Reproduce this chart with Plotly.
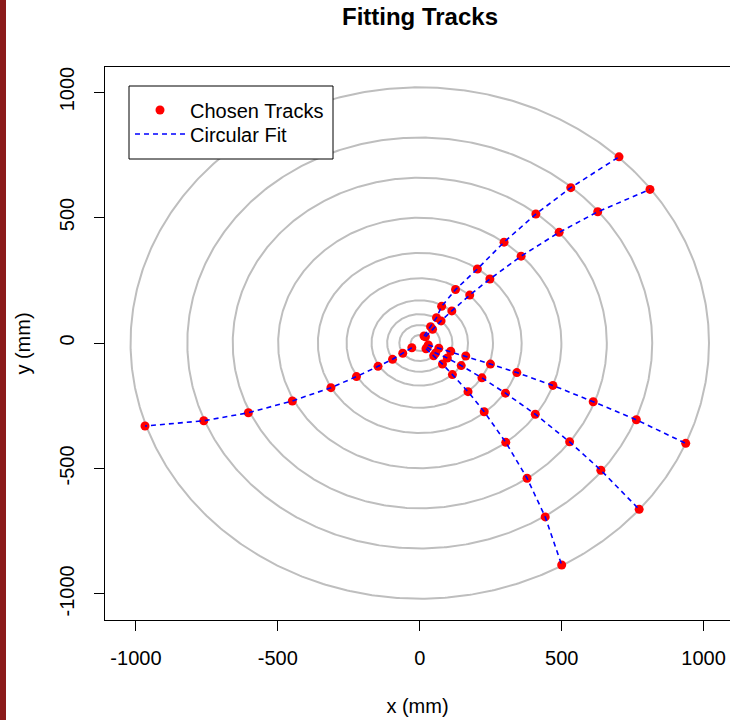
import numpy as np
import plotly.graph_objects as go

# Detector layer radii (mm)
layer_radii = [32, 72, 115, 170, 258, 359, 499, 659, 819, 1019]

# Chosen track hits (mm), inner -> outer
track_a_x = [15, 38, 59, 77, 126, 203, 297, 409, 532, 702]
track_a_y = [28, 65, 101, 146, 213, 295, 402, 514, 619, 742]
track_b_x = [20, 45, 75, 113, 176, 247, 357, 491, 627, 811]
track_b_y = [25, 55, 88, 128, 191, 255, 346, 441, 523, 612]
track_l_x = [-28, -60, -96, -147, -223, -313, -449, -604, -761, -968]
track_l_y = [-19, -41, -65, -93, -134, -178, -231, -278, -310, -331]
track_c_x = [30, 67, 109, 162, 249, 342, 469, 611, 763, 937]
track_c_y = [-8, -21, -33, -52, -84, -118, -169, -234, -306, -400]
track_d_x = [26, 56, 97, 146, 219, 302, 407, 528, 638, 773]
track_d_y = [-17, -40, -60, -90, -139, -200, -284, -394, -507, -663]
track_e_x = [22, 49, 80, 115, 170, 227, 303, 378, 442, 500]
track_e_y = [-23, -51, -84, -126, -194, -274, -396, -539, -693, -885]

tracks_x = [track_a_x, track_b_x, track_l_x, track_c_x, track_d_x, track_e_x]
tracks_y = [track_a_y, track_b_y, track_l_y, track_c_y, track_d_y, track_e_y]

tick_vals = [-1000, -500, 0, 500, 1000]
tick_text = ["-1000", "-500", "0", "500", "1000"]

FONT = "Liberation Sans, Arial, sans-serif"
W, H = 730, 720
ML, MR, MT, MB = 105, 0, 67, 100
PW, PH = W - ML - MR, H - MT - MB


def px_x(p):
    return (p - ML) / PW


def px_y(p):
    return (H - MB - p) / PH


fig = go.Figure()

theta = np.linspace(0, 2 * np.pi, 721)
for r in layer_radii:
    fig.add_trace(go.Scatter(
        x=r * np.cos(theta), y=r * np.sin(theta), mode="lines",
        line=dict(color="#BEBEBE", width=2), showlegend=False, hoverinfo="skip"))

pts_x, pts_y, fit_x, fit_y = [], [], [], []
for tx, ty in zip(tracks_x, tracks_y):
    pts_x += tx
    pts_y += ty
    fit_x += tx + [None]
    fit_y += ty + [None]

fig.add_trace(go.Scatter(
    x=pts_x, y=pts_y, mode="markers", name="Chosen Tracks",
    marker=dict(color="#FF0000", size=9, line=dict(width=0)),
    legend="legend"))
fig.add_trace(go.Scatter(
    x=fit_x, y=fit_y, mode="lines", name="Circular Fit",
    line=dict(color="#0000FF", width=1.6, dash="5px,4px"),
    connectgaps=False, legend="legend2"))

axis_common = dict(
    showgrid=False, zeroline=False, showline=True, linecolor="black",
    linewidth=1, ticks="outside", ticklen=10, tickwidth=1, tickcolor="black",
    tickvals=tick_vals, ticktext=tick_text,
    tickfont=dict(family=FONT, size=20, color="black"),
)

fig.update_layout(
    width=W, height=H,
    margin=dict(l=ML, r=MR, t=MT, b=MB, autoexpand=False),
    paper_bgcolor="white", plot_bgcolor="white",
    font=dict(family=FONT, size=20, color="black"),
    title=dict(text="<b>Fitting Tracks</b>", x=px_x(420), xref="paper",
               xanchor="center", y=1 - 17 / H, yref="container", yanchor="middle",
               font=dict(family=FONT, size=24, color="black")),
    xaxis=dict(range=[-1109, 1093], mirror=True, ticklabelstandoff=10,
               title=dict(text="x (mm)", standoff=30,
                          font=dict(family=FONT, size=20, color="black")),
               **axis_common),
    yaxis=dict(range=[-1104, 1100], mirror=False, tickangle=-90, ticklabelstandoff=12,
               title=dict(text="y (mm)", standoff=20,
                          font=dict(family=FONT, size=20, color="black")),
               **axis_common),
    legend=dict(x=px_x(130), y=px_y(110), xanchor="left", yanchor="middle",
                bgcolor="rgba(0,0,0,0)", borderwidth=0, itemwidth=50,
                font=dict(family=FONT, size=20, color="black")),
    legend2=dict(x=px_x(130), y=px_y(134), xanchor="left", yanchor="middle",
                 bgcolor="rgba(0,0,0,0)", borderwidth=0, itemwidth=50,
                 font=dict(family=FONT, size=20, color="black")),
    shapes=[
        dict(type="rect", xref="paper", yref="paper",
             x0=px_x(129), x1=px_x(333), y0=px_y(159), y1=px_y(86),
             fillcolor="white", line=dict(color="black", width=1), layer="above"),
        dict(type="rect", xref="paper", yref="paper",
             x0=px_x(0), x1=px_x(6), y0=px_y(H), y1=px_y(0),
             fillcolor="#8B1A1A", line=dict(width=0), layer="above"),
    ],
)

fig.write_html("out.html")
